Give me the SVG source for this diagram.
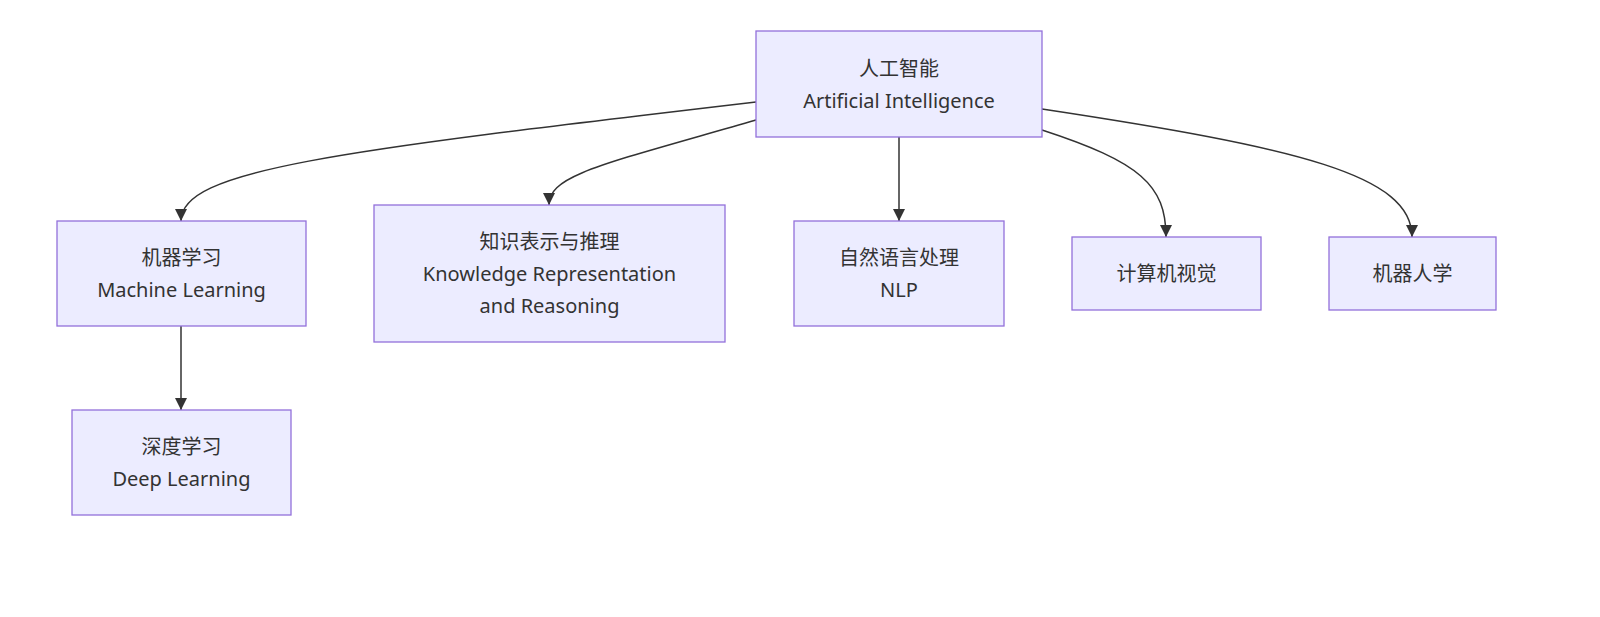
<svg xmlns="http://www.w3.org/2000/svg" width="1600" height="617" viewBox="0 0 1600 617">
<style>
.n rect{fill:#ECECFF;stroke:#9370DB;stroke-width:1.3}
.n text{font-family:"Noto Sans","Noto Sans CJK SC",sans-serif;font-size:20px;fill:#333;text-anchor:middle;dominant-baseline:central}
#edges path{fill:none;stroke:#333;stroke-width:1.5;marker-end:url(#a)}
</style>
<defs><marker id="a" viewBox="0 0 10 10" refX="10" refY="5" markerWidth="12" markerHeight="12" markerUnits="userSpaceOnUse" orient="auto"><path d="M0,0L10,5L0,10z" fill="#333"/></marker></defs>
<rect width="1600" height="617" fill="#fff"/>
<g id="edges">
<path d="M756,102 C330,152 181,170 181,221"/>
<path d="M756,120 C600,165 549,175 549,205"/>
<path d="M899,137 L899,221"/>
<path d="M1042,130 C1140,162 1166,185 1166,237"/>
<path d="M1042,109 C1300,148 1412,175 1412,237"/>
<path d="M181,326 L181,410"/>
</g>
<g id="ai" class="n"><rect x="756" y="31" width="286" height="106"/><text x="899" y="68">人工智能</text><text x="899" y="100">Artificial Intelligence</text></g>
<g id="ml" class="n"><rect x="57" y="221" width="249" height="105"/><text x="181.5" y="257">机器学习</text><text x="181.5" y="289">Machine Learning</text></g>
<g id="kr" class="n"><rect x="374" y="205" width="351" height="137"/><text x="549.5" y="241">知识表示与推理</text><text x="549.5" y="273">Knowledge Representation</text><text x="549.5" y="305">and Reasoning</text></g>
<g id="nlp" class="n"><rect x="794" y="221" width="210" height="105"/><text x="899" y="257">自然语言处理</text><text x="899" y="289">NLP</text></g>
<g id="cv" class="n"><rect x="1072" y="237" width="189" height="73"/><text x="1166.5" y="273">计算机视觉</text></g>
<g id="rb" class="n"><rect x="1329" y="237" width="167" height="73"/><text x="1412.5" y="273">机器人学</text></g>
<g id="dl" class="n"><rect x="72" y="410" width="219" height="105"/><text x="181.5" y="446">深度学习</text><text x="181.5" y="478">Deep Learning</text></g>
</svg>
